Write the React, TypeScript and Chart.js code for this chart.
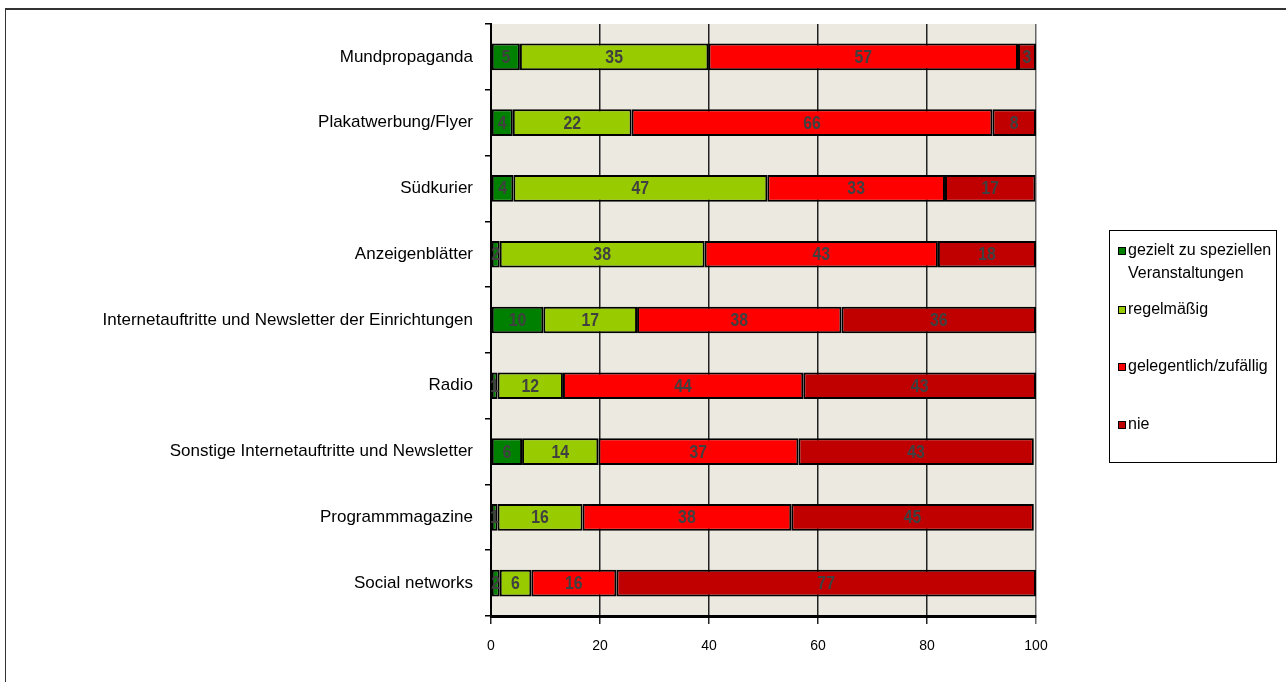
import React, { useEffect, useRef } from "react";
import { Chart, registerables } from "chart.js";

Chart.register(...registerables);

const categories = [
  "Mundpropaganda",
  "Plakatwerbung/Flyer",
  "Südkurier",
  "Anzeigenblätter",
  "Internetauftritte und Newsletter der Einrichtungen",
  "Radio",
  "Sonstige Internetauftritte und Newsletter",
  "Programmmagazine",
  "Social networks",
];

const seriesNames = [
  ["gezielt zu speziellen", "Veranstaltungen"],
  ["regelmäßig"],
  ["gelegentlich/zufällig"],
  ["nie"],
];

const gezielt = [5.3, 4.0, 4.1, 1.6, 9.6, 1.2, 5.7, 1.2, 1.6];
const regelmaessig = [34.6, 21.8, 46.6, 37.6, 17.2, 12.0, 14.0, 15.6, 5.8];
const gelegentlich = [56.8, 66.2, 32.6, 42.8, 37.5, 44.1, 36.7, 38.3, 15.6];
const nie = [3.3, 8.0, 16.6, 18.0, 35.7, 42.7, 43.2, 44.5, 77.0];

const colors = ["#008000", "#99CC00", "#FF0000", "#C00000"];

const FONT = '"Liberation Sans", Arial, sans-serif';

const labelPlugin = {
  id: "segLabels",
  afterDatasetsDraw(chart: any) {
    const ctx = chart.ctx;
    ctx.save();
    ctx.font = `bold 18px ${FONT}`;
    ctx.fillStyle = "#404040";
    ctx.textAlign = "center";
    ctx.textBaseline = "middle";
    const sx = 0.88;
    chart.data.datasets.forEach((ds: any, di: number) => {
      const meta = chart.getDatasetMeta(di);
      meta.data.forEach((el: any, i: number) => {
        const v = ds.data[i];
        const x = (el.x + el.base) / 2;
        ctx.save();
        ctx.translate(x, el.y + 1);
        ctx.scale(sx, 1);
        ctx.fillText(String(Math.round(v)), 0, 0);
        ctx.restore();
      });
    });
    ctx.restore();
  },
};

const legendPlugin = {
  id: "customLegend",
  afterDraw(chart: any) {
    const ctx = chart.ctx;
    ctx.save();
    ctx.strokeStyle = "#000";
    ctx.lineWidth = 1;
    ctx.strokeRect(1109.5, 230.5, 167, 232);
    ctx.font = `16px ${FONT}`;
    ctx.textBaseline = "middle";
    ctx.textAlign = "left";
    const ys = [251, 310, 367, 425];
    seriesNames.forEach((lines, i) => {
      const y = ys[i];
      ctx.fillStyle = colors[i];
      ctx.fillRect(1118, y - 4, 8, 8);
      ctx.strokeStyle = "#000";
      ctx.strokeRect(1118.5, y - 3.5, 7, 7);
      ctx.fillStyle = "#000";
      lines.forEach((t, li) => {
        ctx.fillText(t, 1128, y + li * 23);
      });
    });
    ctx.restore();
  },
};

const bgPlugin = {
  id: "plotBg",
  beforeDraw(chart: any) {
    const { ctx, chartArea } = chart;
    ctx.save();
    ctx.fillStyle = "#ECE9E0";
    ctx.fillRect(chartArea.left, chartArea.top, chartArea.right - chartArea.left, chartArea.bottom - chartArea.top);
    ctx.restore();
  },
};

export default function App() {
  const ref = useRef<HTMLCanvasElement>(null);

  useEffect(() => {
    if (!ref.current) return;
    const values = [gezielt, regelmaessig, gelegentlich, nie];
    const chart = new Chart(ref.current, {
      type: "bar",
      data: {
        labels: categories,
        datasets: values.map((d, i) => ({
          label: seriesNames[i].join(" "),
          data: d,
          backgroundColor: colors[i],
          borderColor: "#000",
          borderWidth: 2,
          borderSkipped: false,
          barPercentage: 1,
          categoryPercentage: 0.405,
        })),
      },
      options: {
        indexAxis: "y",
        responsive: false,
        animation: false,
        layout: { padding: { left: 0, right: 250, top: 24, bottom: 0 } },
        plugins: {
          legend: { display: false },
          tooltip: { enabled: false },
        },
        scales: {
          x: {
            stacked: true,
            min: 0,
            max: 100,
            ticks: {
              stepSize: 20,
              color: "#000",
              font: { family: FONT, size: 14 },
              padding: 14,
            },
            grid: {
              color: (c: any) => (c.tick && c.tick.value === 100 ? "#666" : "#222"),
              lineWidth: 1.5,
              drawOnChartArea: true,
              drawTicks: true,
              tickLength: 8,
            },
            border: { display: true, color: "#000", width: 3 },
            afterFit: (s: any) => {
              s.height = 66;
            },
          },
          y: {
            stacked: true,
            ticks: {
              color: "#000",
              font: { family: FONT, size: 17 },
              padding: 12,
            },
            grid: {
              offset: true,
              drawOnChartArea: false,
              drawTicks: true,
              tickLength: 6,
              color: "#000",
              lineWidth: 1.5,
            },
            border: { display: true, color: "#000", width: 2 },
            afterFit: (s: any) => {
              s.width = 491;
            },
          },
        },
      },
      plugins: [bgPlugin, labelPlugin, legendPlugin],
    } as any);
    return () => chart.destroy();
  }, []);

  return (
    <div
      style={{
        position: "fixed",
        left: 0,
        top: 0,
        width: 1286,
        height: 682,
        overflow: "hidden",
        background: "#fff",
      }}
    >
      <div
        style={{
          position: "absolute",
          left: 5,
          top: 8,
          width: 1300,
          height: 700,
          borderTop: "2px solid #333",
          borderLeft: "1px solid #333",
        }}
      />
      <canvas
        ref={ref}
        width={1286}
        height={682}
        style={{ position: "absolute", left: 0, top: 0, width: 1286, height: 682 }}
      />
    </div>
  );
}
